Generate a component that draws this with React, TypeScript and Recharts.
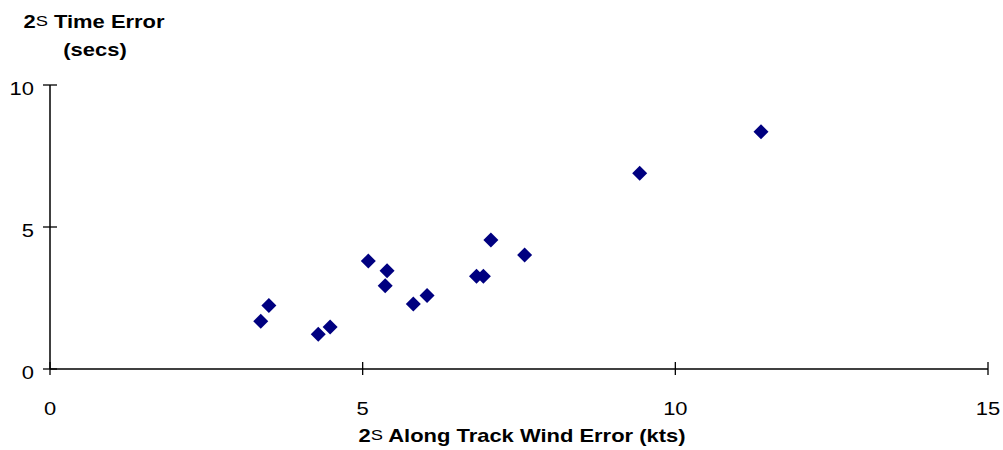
import React from "react";
import { ScatterChart, Scatter, XAxis, YAxis } from "recharts";

// wind error (kts) vs time error (secs)
const windError = [3.37, 3.5, 4.29, 4.48, 5.09, 5.39, 5.36, 5.81, 6.03, 6.82, 6.93, 7.05, 7.59, 9.43, 11.37];
const timeError = [1.68, 2.24, 1.22, 1.48, 3.8, 3.46, 2.93, 2.29, 2.59, 3.27, 3.27, 4.54, 4.01, 6.89, 8.35];
const xTicks = [0, 5, 10, 15];
const yTicks = [0, 5, 10];

const FONT = '"Liberation Sans", Arial, sans-serif';
const NAVY = "#000080";
const STRETCH = 1.22; // the reference text is drawn a little wide

const points = windError.map((x, i) => ({ x, y: timeError[i] }));

// Excel-style diamond: a square turned 45 degrees
const Diamond = (p: any) => {
  const r = 7.5;
  const { cx, cy } = p;
  return <polygon points={`${cx},${cy - r} ${cx + r},${cy} ${cx},${cy + r} ${cx - r},${cy}`} fill={NAVY} />;
};

// text stretched horizontally about its anchor point
const WideText = ({ x, y, anchor = "middle", bold = false, children }: any) => (
  <text
    transform={`translate(${x},${y}) scale(${STRETCH},1)`} x={0} y={0}
    textAnchor={anchor} fontSize={18} fontWeight={bold ? "bold" : "normal"} fontFamily={FONT} fill="#000"
  >
    {children}
  </text>
);

// ticks cross the axis line, labels drawn next to them
const XTick = (p: any) => (
  <g>
    <line x1={p.x} x2={p.x} y1={p.y - 7} y2={p.y + 6} stroke="#000" strokeWidth={1.3} />
    <WideText x={p.x} y={p.y + 46}>{p.payload.value}</WideText>
  </g>
);

const YTick = (p: any) => (
  <g>
    <line x1={p.x - 7} x2={p.x + 7} y1={p.y} y2={p.y} stroke="#000" strokeWidth={1.3} />
    <WideText x={p.x - 16} y={p.y + 9.5} anchor="end">{p.payload.value}</WideText>
  </g>
);

const Sigma = () => (
  <tspan fontWeight="normal" fontSize={15} dy={-2}>S</tspan>
);

const XTitle = () => (
  <WideText x={522} y={442} bold>
    2<Sigma /><tspan dy={2}> Along Track Wind Error (kts)</tspan>
  </WideText>
);

const YTitle = () => (
  <g>
    <WideText x={94} y={28} bold>
      2<Sigma /><tspan dy={2}> Time Error</tspan>
    </WideText>
    <WideText x={95} y={56} bold>(secs)</WideText>
  </g>
);

export default function App() {
  return (
    <div style={{ position: "absolute", left: 0, top: 0, background: "#fff" }}>
      <ScatterChart width={1003} height={450} margin={{ top: 85, right: 15, bottom: 0, left: 0 }}>
        <XAxis
          type="number" dataKey="x" domain={[0, 15]} ticks={xTicks} height={81}
          tickSize={0} tickMargin={0} tick={<XTick />} tickLine={false}
          axisLine={{ stroke: "#000", strokeWidth: 1.5 }} allowDataOverflow
          label={{ content: () => <XTitle /> }}
        />
        <YAxis
          type="number" dataKey="y" domain={[0, 10]} ticks={yTicks} width={50}
          tickSize={0} tickMargin={0} tick={<YTick />} tickLine={false}
          axisLine={{ stroke: "#000", strokeWidth: 1.5 }} allowDataOverflow
          label={{ content: () => <YTitle /> }}
        />
        <Scatter data={points} fill={NAVY} shape={<Diamond />} isAnimationActive={false} />
      </ScatterChart>
    </div>
  );
}
